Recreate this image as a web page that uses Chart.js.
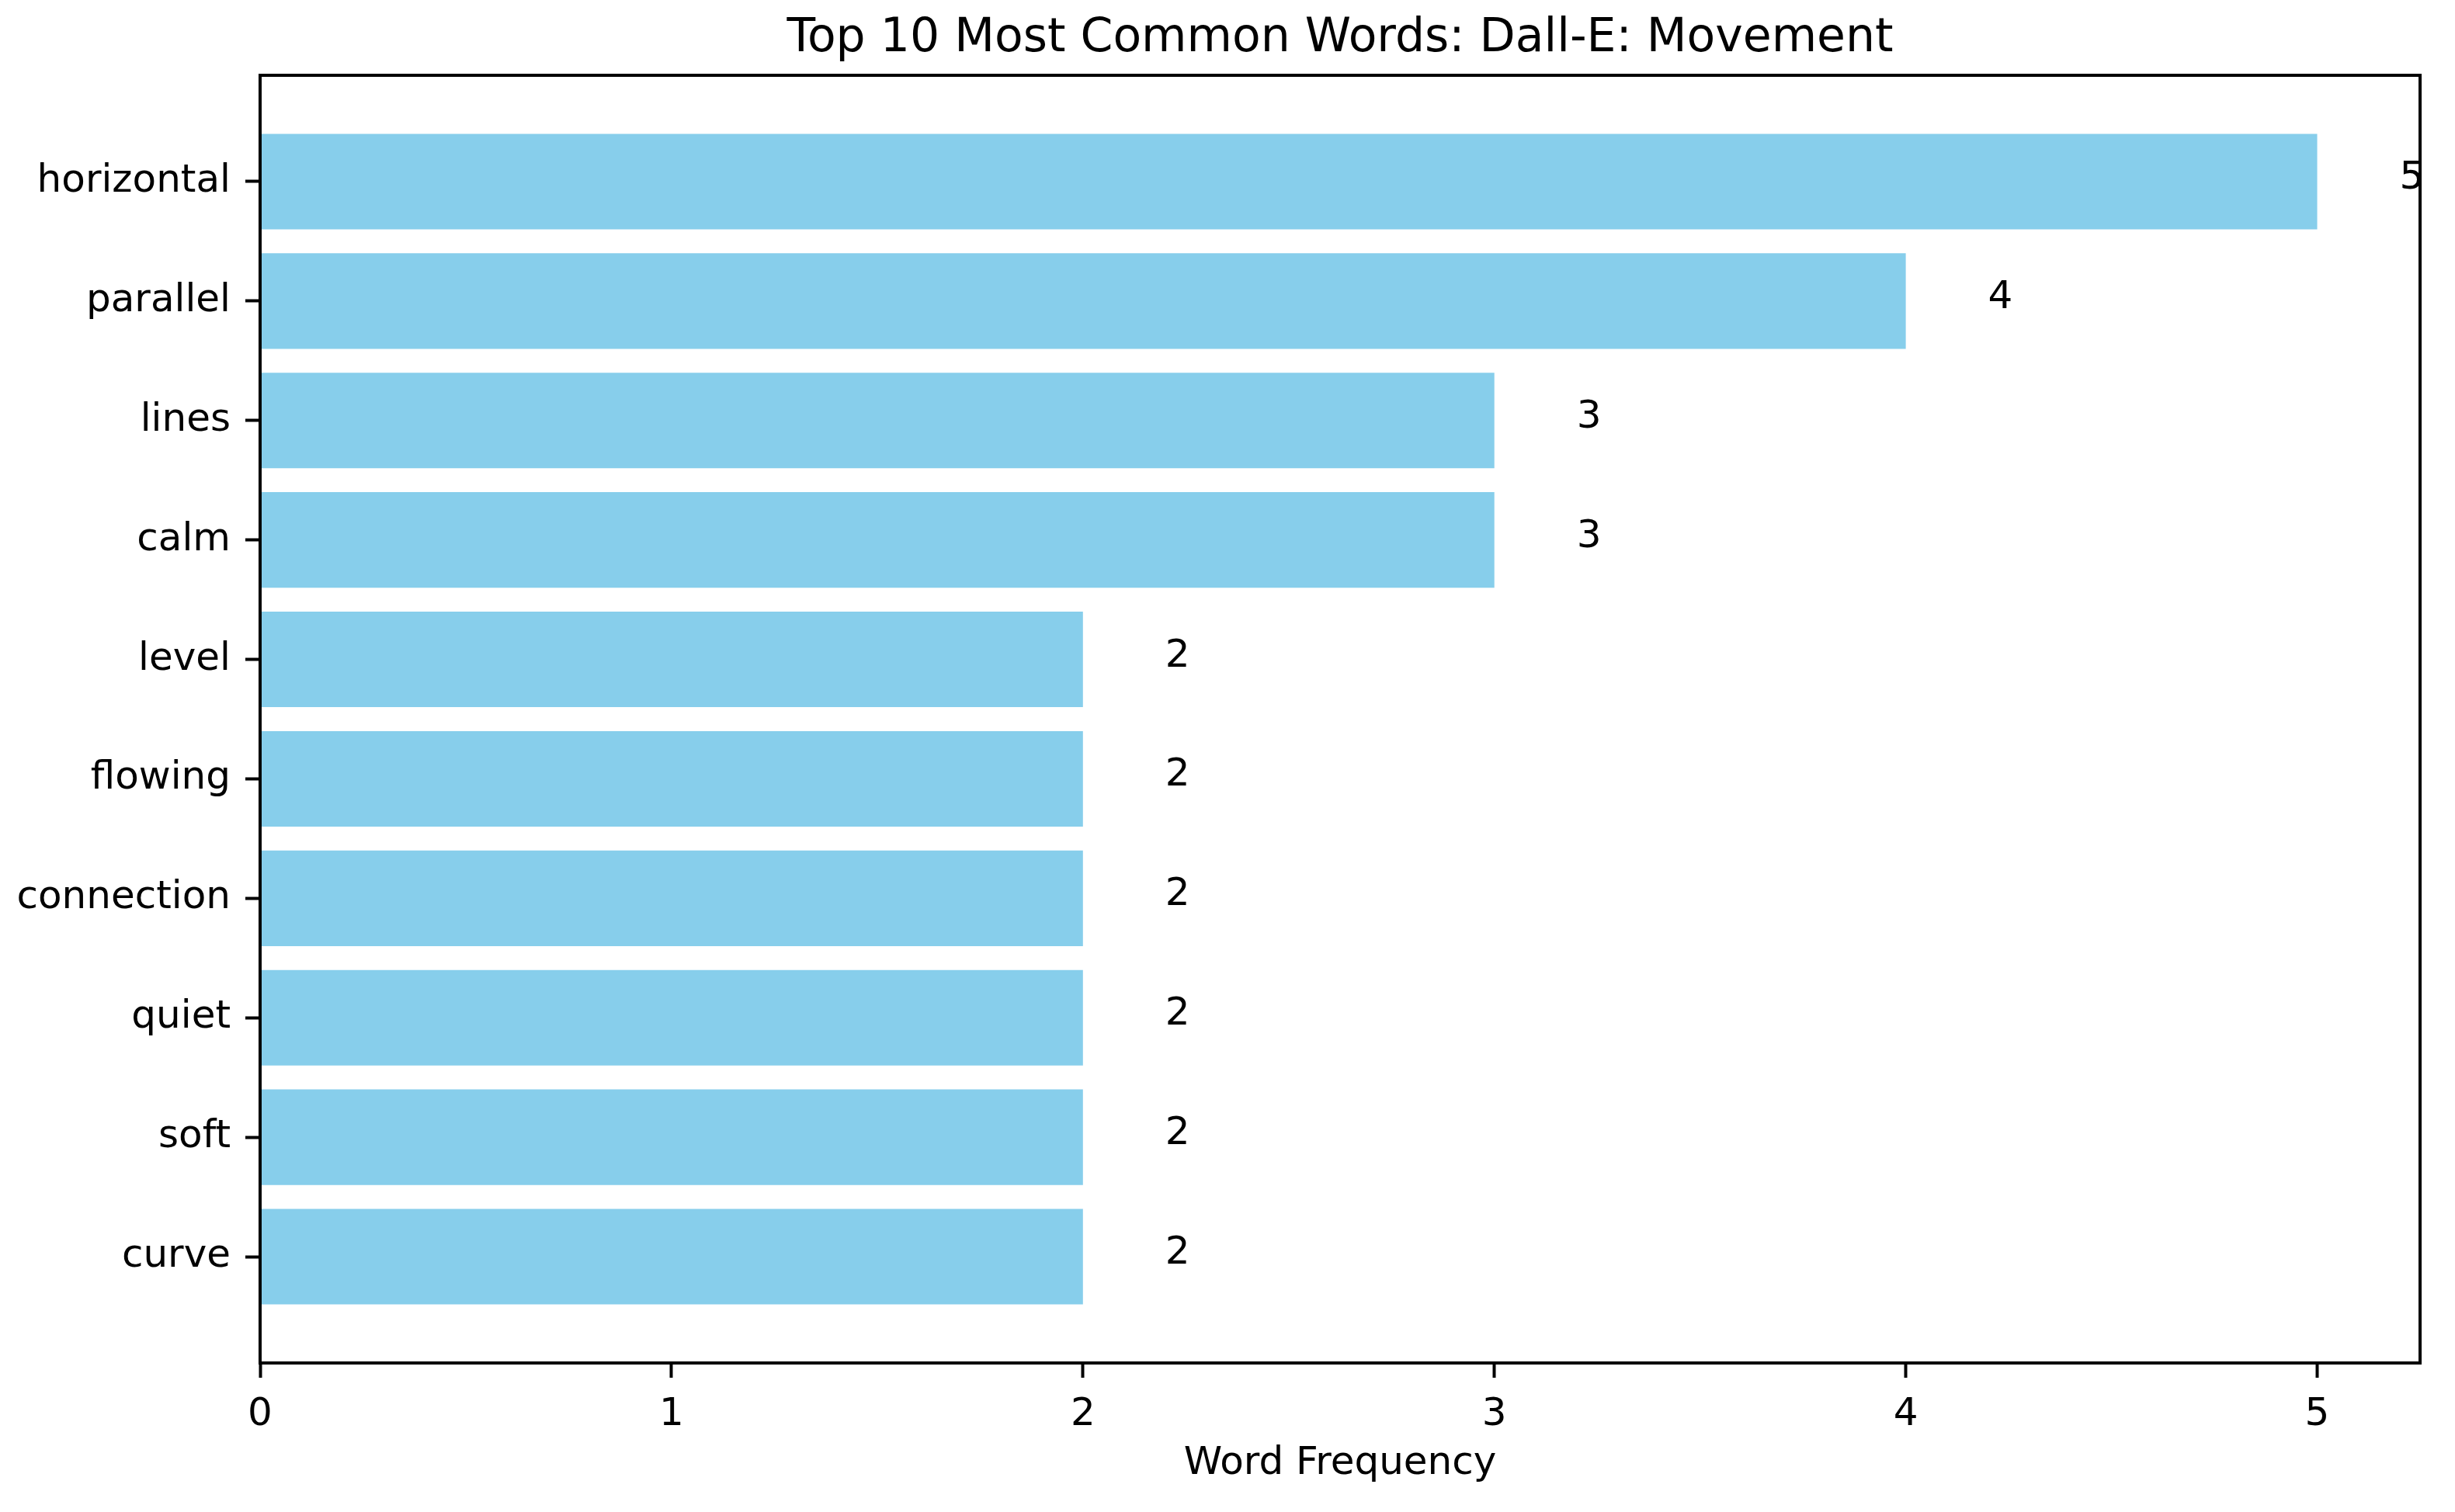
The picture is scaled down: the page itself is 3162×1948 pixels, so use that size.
<!DOCTYPE html>
<html>
<head>
<meta charset="utf-8">
<script src="https://cdn.jsdelivr.net/npm/chart.js@4/dist/chart.umd.min.js"></script>
<style>
  body { margin: 0; background: #fff; }
  canvas { display: block; }
</style>
</head>
<body>
<canvas id="grafica" width="3162" height="1948"></canvas>
<script>
const palabras = ['horizontal', 'parallel', 'lines', 'calm', 'level', 'flowing', 'connection', 'quiet', 'soft', 'curve'];
const frecuencias = [5, 4, 3, 3, 2, 2, 2, 2, 2, 2];
const ticksX = [0, 1, 2, 3, 4, 5];

const titulo = 'Top 10 Most Common Words: Dall-E: Movement';
const tituloX = 'Word Frequency';
const fuente = '"DejaVu Sans", sans-serif';

// marco, textos y etiquetas de valor
const extras = {
    id: 'extras',
    afterDraw(chart) {
        const ctx = chart.ctx;
        const area = chart.chartArea;
        const x = chart.scales.x;
        const y = chart.scales.y;
        ctx.save();

        // etiquetas de valor (recortadas al area)
        ctx.save();
        ctx.beginPath();
        ctx.rect(0, 0, area.right, chart.height);
        ctx.clip();
        ctx.fillStyle = '#000';
        ctx.font = '50px ' + fuente;
        ctx.textAlign = 'left';
        ctx.textBaseline = 'middle';
        frecuencias.forEach((v, i) => {
            ctx.fillText(String(v), x.getPixelForValue(v + 0.2), y.getPixelForValue(i) - 4);
        });
        ctx.restore();

        // marco
        ctx.strokeStyle = '#000';
        ctx.lineWidth = 4;
        ctx.strokeRect(area.left, area.top, area.right - area.left, area.bottom - area.top);

        // titulo
        ctx.fillStyle = '#000';
        ctx.textAlign = 'center';
        ctx.textBaseline = 'middle';
        const cx = (area.left + area.right) / 2;
        ctx.font = '60px ' + fuente;
        ctx.fillText(titulo, cx, 50);
        ctx.font = '50px ' + fuente;
        ctx.fillText(tituloX, cx, 1886);
        ctx.restore();
    }
};

new Chart(document.getElementById('grafica'), {
    type: 'bar',
    data: {
        datasets: [{
            data: frecuencias.map((v, i) => ({ x: v, y: i })),
            backgroundColor: '#87CEEB',
            borderWidth: 0,
            barPercentage: 0.8,
            categoryPercentage: 1.0
        }]
    },
    options: {
        indexAxis: 'y',
        responsive: false,
        animation: false,
        devicePixelRatio: 1,
        layout: { padding: { left: 0, top: 97, right: 45, bottom: 0 } },
        plugins: {
            legend: { display: false },
            tooltip: { enabled: false }
        },
        scales: {
            x: {
                type: 'linear',
                min: 0,
                max: 5.25,
                afterBuildTicks: s => { s.ticks = ticksX.map(v => ({ value: v })); },
                afterFit: s => { s.height = 192; },
                border: { display: false },
                grid: { drawOnChartArea: false, tickLength: 19, tickColor: '#000', tickWidth: 4 },
                ticks: { color: '#000', padding: 18, font: { family: fuente, size: 50 } }
            },
            y: {
                type: 'linear',
                reverse: true,
                offset: false,
                min: -0.89,
                max: 9.89,
                afterBuildTicks: s => { s.ticks = palabras.map((p, i) => ({ value: i })); },
                afterFit: s => { s.width = 335; },
                border: { display: false },
                grid: { offset: false, drawOnChartArea: false, tickLength: 19, tickColor: '#000', tickWidth: 4 },
                ticks: {
                    color: '#000',
                    padding: 19,
                    font: { family: fuente, size: 50 },
                    callback: v => palabras[v]
                }
            }
        }
    },
    plugins: [extras]
});
</script>
</body>
</html>
